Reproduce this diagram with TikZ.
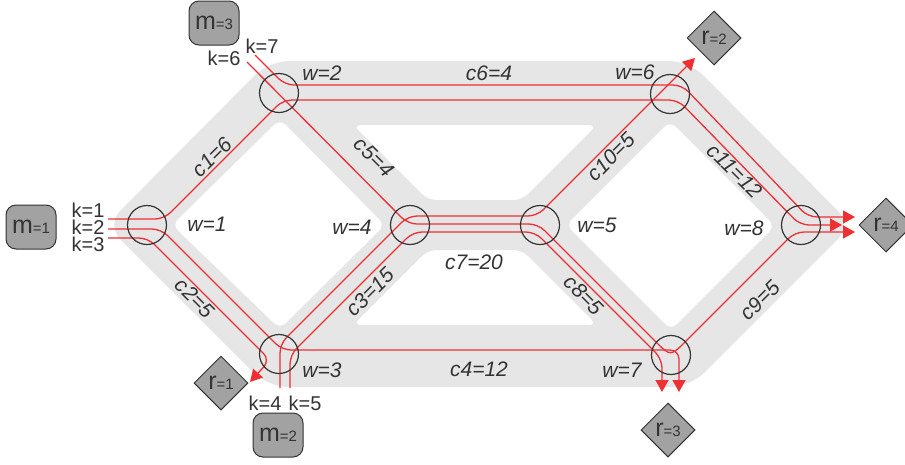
\documentclass[tikz,border=0pt]{standalone}
\usepackage{fontspec}
\setmainfont{Liberation Sans}
\usetikzlibrary{arrows.meta}
\usetikzlibrary{shapes.geometric}
\definecolor{bandgray}{HTML}{E6E6E6}
\definecolor{route}{HTML}{EE3035}
\definecolor{ink}{HTML}{333333}
\definecolor{boxgray}{HTML}{A2A2A2}
\tikzset{>={Triangle[length=12pt,width=13pt]}}
\tikzset{
    hub/.style={circle, draw=ink, line width=1.2pt, minimum size=39pt, inner sep=0pt},
    flow/.style={draw=route, line width=1.3pt, rounded corners=9pt},
    wlab/.style={text=ink, inner sep=0pt, font=\fontsize{21}{21}\selectfont\itshape},
    klab/.style={text=ink, inner sep=0pt, font=\fontsize{20}{20}\selectfont},
    src/.style={draw=ink, fill=boxgray, line width=1pt, rounded corners=10pt, minimum width=50pt, minimum height=44pt, inner sep=0pt, text=ink},
    snk/.style={diamond, draw=ink, fill=boxgray, line width=1pt, minimum width=54pt, minimum height=54pt, inner sep=0pt, text=ink},
}
\newcommand{\mrtext}[2]{{\fontsize{25}{25}\selectfont #1}{\fontsize{15}{15}\selectfont =#2}}

\begin{document}
\begin{tikzpicture}[x=1pt, y=-1pt]
\useasboundingbox (0,0) rectangle (905,464);
% network band
\fill[bandgray, even odd rule, rounded corners=20pt]
    (106,225) -- (269,61) -- (689,61) -- (852,225) -- (690,387) -- (268,387) -- cycle
    [rounded corners=8pt]
    (172,225) -- (280,119) -- (385,225) -- (280,329) -- cycle
    (566,225) -- (670,121) -- (775,226) -- (671,330) -- cycle
    (353,125) -- (597,125) -- (522,200) -- (428,200) -- cycle
    (428,250) -- (522,250) -- (597,325) -- (353,325) -- cycle;

% routes
\draw[flow,->] (108,219) -- (164,219) -- (283,100) -- (678,100) -- (800,225) -- (842,225);
\draw[flow,->] (108,229) -- (161,229) -- (282,350) -- (679,350) -- (679,392);
\draw[flow,->] (108,238) -- (148,238) -- (270,360) -- (250,382);
\draw[flow,->] (280,388) -- (280,344) -- (408,216) -- (537,216) -- (695,58);
\draw[flow,->] (290,388) -- (290,355) -- (413,232) -- (535,232) -- (662,359) -- (662,392);
\draw[flow,->] (247,62) -- (408,224) -- (538,224) -- (649,335) .. controls (670.5,356.5) .. (692,335) -- (795,232) -- (855,232);
\draw[flow,->] (255,55) -- (285,85) -- (682,85) -- (808,217) -- (855,217);

% nodes
\node[hub] (w1) at (147,225) {};
\node[hub] (w2) at (279,93) {};
\node[hub] (w3) at (279,354) {};
\node[hub] (w4) at (410,225) {};
\node[hub] (w5) at (540,225) {};
\node[hub] (w6) at (670,94) {};
\node[hub] (w7) at (671,355) {};
\node[hub] (w8) at (801,225) {};

\node[wlab] (lw1) at (207,224) {w=1};
\node[wlab] (lw2) at (322,73) {w=2};
\node[wlab] (lw3) at (322,370) {w=3};
\node[wlab] (lw4) at (352,227) {w=4};
\node[wlab] (lw5) at (597,225) {w=5};
\node[wlab] (lw6) at (635,72) {w=6};
\node[wlab] (lw7) at (622,370) {w=7};
\node[wlab] (lw8) at (744,228) {w=8};

\node[wlab, rotate=45] (lc1) at (212,157) {c1=6};
\node[wlab, rotate=-45] (lc2) at (195,298) {c2=5};
\node[wlab, rotate=45] (lc3) at (370,292) {c3=15};
\node[wlab] (lc4) at (479,369) {c4=12};
\node[wlab, rotate=-45] (lc5) at (374,157) {c5=4};
\node[wlab] (lc6) at (489,73) {c6=4};
\node[wlab] (lc7) at (474,262) {c7=20};
\node[wlab, rotate=-45] (lc8) at (584,295) {c8=5};
\node[wlab, rotate=45] (lc9) at (760,300) {c9=5};
\node[wlab, rotate=45] (lc10) at (611,157) {c10=5};
\node[wlab, rotate=-45] (lc11) at (735,171) {c11=12};

\node[klab] (lk1) at (88,210) {k=1};
\node[klab] (lk2) at (88,227) {k=2};
\node[klab] (lk3) at (88,244) {k=3};
\node[klab] (lk4) at (265,403) {k=4};
\node[klab] (lk5) at (305,403) {k=5};
\node[klab] (lk6) at (224,58) {k=6};
\node[klab] (lk7) at (262,46) {k=7};

\node[src] (m1) at (31,227) {\mrtext{m}{1}};
\node[src] (m3) at (214,23) {\mrtext{m}{3}};
\node[src] (m2) at (278,435) {\mrtext{m}{2}};
\node[snk] (r1) at (221,383) {\mrtext{r}{1}};
\node[snk] (r2) at (714,38) {\mrtext{r}{2}};
\node[snk] (r3) at (668,430) {\mrtext{r}{3}};
\node[snk] (r4) at (886,225) {\mrtext{r}{4}};
\end{tikzpicture}
\end{document}
